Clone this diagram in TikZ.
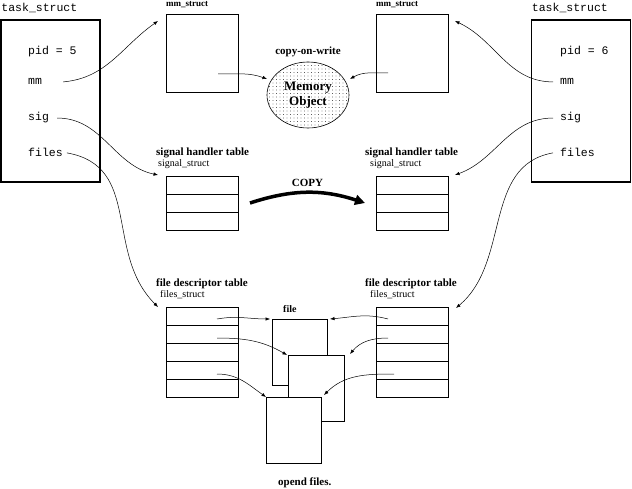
\documentclass[tikz,border=0pt]{standalone}
\usepackage{fontspec}
\setmainfont{Liberation Serif}
\setmonofont{Liberation Mono}
\usepackage{tikz}
\usetikzlibrary{arrows.meta, positioning, shapes.geometric, patterns.meta}
\tikzset{
  taskbox/.style={
    rectangle, draw, line width=1.6pt,
    minimum width=99pt, minimum height=162pt, inner sep=0pt
  },
  structbox/.style={
    rectangle, draw, line width=0.8pt, fill=white,
    minimum width=72pt, minimum height=#1, inner sep=0pt, outer sep=0pt
  },
  structbox/.default=18pt,
  field/.style={font=\fontsize{11.5}{12}\ttfamily, inner sep=0pt, anchor=base west},
  title/.style={font=\fontsize{11}{12}\bfseries, inner sep=0pt, anchor=base west},
  subtitle/.style={font=\fontsize{10}{11}\selectfont, inner sep=0pt, anchor=base west},
  ptr/.style={line width=0.5pt, -{Latex[length=4.5pt,width=3.5pt]}},
  copyarrow/.style={line width=3.5pt, -{Triangle[length=10pt,width=10pt]}},
}

\begin{document}
\begin{tikzpicture}[x=1pt, y=-1pt]
  \useasboundingbox (0,0) rectangle (632,489);

  % --- task_struct de los dos procesos ---
  \node (ltask) [taskbox] at (50.5,101) {};
  \node (rtask) [taskbox] at (581,101) {};
  \node (ltaskt) [field] at ([shift={(1,-8)}]ltask.north west) {task\_struct};
  \node (rtaskt) [field] at ([shift={(1,-8)}]rtask.north west) {task\_struct};

  \node (lpid)   [field] at (28,55)  {pid = 5};
  \node (lmm)    [field] at (28,85)  {mm};
  \node (lsig)   [field] at (28,121) {sig};
  \node (lfiles) [field] at (28,157) {files};
  \node (rpid)   [field] at (560,55)  {pid = 6};
  \node (rmm)    [field] at (560,85)  {mm};
  \node (rsig)   [field] at (560,121) {sig};
  \node (rfiles) [field] at (560,157) {files};

  % --- mm_struct y Memory Object ---
  \node (lmms) [structbox=78pt] at (202,53) {};
  \node (rmms) [structbox=78pt, right=138pt of lmms] {};
  \node [title, font=\fontsize{9}{10}\bfseries] at ([shift={(0,-7)}]lmms.north west) {mm\_struct};
  \node [title, font=\fontsize{9}{10}\bfseries] at ([shift={(0,-7)}]rmms.north west) {mm\_struct};

  \node (mem) [ellipse, draw, line width=0.6pt, pattern={Dots[distance=3.5pt,radius=0.45pt]},
               minimum width=82pt, minimum height=66pt, inner sep=0pt,
               align=center, font=\fontsize{13}{15}\bfseries] at (308,95) {Memory\\Object};
  \node (cow) [title, anchor=south, above=5pt of mem] {copy-on-write};

  % --- signal handler table (3 filas) ---
  \node (lss1) [structbox] at (202,185) {};
  \node (rss1) [structbox, right=138pt of lss1] {};
  \foreach \i [count=\j from 2] in {1,2} {
    \node (lss\j) [structbox, below=0pt of lss\i] {};
    \node (rss\j) [structbox, below=0pt of rss\i] {};
  }
  \node [title]    at ([shift={(-10,-20)}]lss1.north west) {signal handler table};
  \node [subtitle] at ([shift={(-8,-9)}]lss1.north west)   {signal\_struct};
  \node [title]    at ([shift={(-11,-20)}]rss1.north west) {signal handler table};
  \node [subtitle] at ([shift={(-6,-9)}]rss1.north west)   {signal\_struct};

  % --- file descriptor table (5 filas) ---
  \node (lfs1) [structbox] at (202,316) {};
  \node (rfs1) [structbox, right=138pt of lfs1] {};
  \foreach \i [count=\j from 2] in {1,...,4} {
    \node (lfs\j) [structbox, below=0pt of lfs\i] {};
    \node (rfs\j) [structbox, below=0pt of rfs\i] {};
  }
  \node [title]    at ([shift={(-10,-20)}]lfs1.north west) {file descriptor table};
  \node [subtitle] at ([shift={(-6,-9)}]lfs1.north west)   {files\_struct};
  \node [title]    at ([shift={(-11,-20)}]rfs1.north west) {file descriptor table};
  \node [subtitle] at ([shift={(-6,-9)}]rfs1.north west)   {files\_struct};

  % --- ficheros abiertos ---
  \node (file1) [structbox=66pt, minimum width=55pt] at (299.5,352) {};
  \node (file2) [structbox=66pt, minimum width=56pt] at (316,388) {};
  \node (file3) [structbox=66pt, minimum width=55pt] at (293.5,430) {};
  \node [title, font=\fontsize{10}{11}\bfseries] at ([shift={(11,-7)}]file1.north west) {file};
  \node [title] at ([shift={(12,22)}]file3.south west) {opend files.};

  % --- punteros desde task_struct ---
  \draw[ptr] ([xshift=21pt]lmm.east)   to[out=5, in=215]   ([shift={(-8,7)}]lmms.north west);
  \draw[ptr] ([xshift=8pt]lsig.east)   to[out=0, in=168]   ([shift={(-8,-1)}]lss1.north west);
  \draw[ptr] ([xshift=4pt]lfiles.east) to[out=-10, in=135, looseness=1.1] ([shift={(-8,0)}]lfs1.north west);
  \draw[ptr] ([xshift=-7pt]rmm.west)   to[out=180, in=-25] ([shift={(7,7)}]rmms.north east);
  \draw[ptr] ([xshift=-7pt]rsig.west)  to[out=180, in=20]  ([shift={(7,-1)}]rss1.north east);
  \draw[ptr] ([xshift=-7pt]rfiles.west) to[out=190, in=40] ([shift={(8,1)}]rfs1.north east);

  % --- mm_struct -> Memory Object ---
  \draw[ptr] ([shift={(16,21)}]lmms.center)  to[out=0, in=160]  ([shift={(-41,-16)}]mem.center);
  \draw[ptr] ([shift={(-24,20)}]rmms.center) to[out=180, in=30] ([shift={(42,-16)}]mem.center);

  % --- COPY ---
  \draw[copyarrow] ([xshift=12pt]lss2.east) to[bend left=18]
        node[title, anchor=base, above=4pt] {COPY} ([xshift=-11pt]rss2.west);

  % --- descriptores -> file ---
  \draw[ptr] ([shift={(15,3)}]lfs1.center)  to[out=10, in=180]  ([xshift=-2pt]file1.north west);
  \draw[ptr] ([shift={(15,4)}]lfs2.center)  to[out=0, in=150]   ([xshift=-1pt]file2.north west);
  \draw[ptr] ([shift={(15,4)}]lfs4.center)  to[out=0, in=145]   (file3.north west);
  \draw[ptr] ([shift={(-24,3)}]rfs1.center) to[out=165, in=5]   ([xshift=3pt]file1.north east);
  \draw[ptr] ([shift={(-24,4)}]rfs2.center) to[out=180, in=50]  ([shift={(6,-1)}]file2.north east);
  \draw[ptr] ([shift={(-18,4)}]rfs4.center) to[out=180, in=45]  ([shift={(3,-2)}]file3.north east);

\end{tikzpicture}
\end{document}
